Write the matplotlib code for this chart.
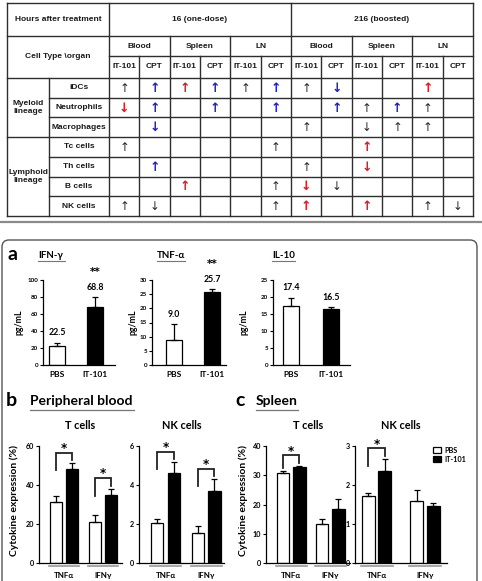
import numpy as np
import matplotlib
matplotlib.use("Agg")
import matplotlib.pyplot as plt
from matplotlib.patches import FancyBboxPatch

W, H = 482, 581
TFONT = ["Liberation Sans", "DejaVu Sans"]
PFONT = ["Lato", "DejaVu Sans"]
RED, BLUE, GREY = "#e3161b", "#1c1cd6", "#2a2a2a"

# ---- table data -------------------------------------------------------------
time_points = ["16 (one-dose)", "216 (boosted)"]
organs = ["Blood", "Spleen", "LN"]
treatments = ["IT-101", "CPT"]
lineages = [("Myeloid\nlineage", 3), ("Lymphoid\nlineage", 4)]
cell_types = ["iDCs", "Neutrophils", "Macrophages", "Tc cells", "Th cells",
              "B cells", "NK cells"]
# u/d thin black arrow, ru/rd bold red, bu/bd bold blue
changes = [
    ["u", "bu", "ru", "bu", "u", "bu", "u", "bd", "", "", "ru", ""],
    ["rd", "bu", "", "bu", "", "bu", "", "bu", "u", "bu", "u", ""],
    ["", "bd", "", "", "", "", "u", "", "d", "u", "u", ""],
    ["u", "", "", "", "", "u", "", "", "ru", "", "", ""],
    ["", "bu", "", "", "", "", "u", "", "rd", "", "", ""],
    ["", "", "ru", "", "", "u", "rd", "d", "", "", "", ""],
    ["u", "d", "", "", "", "u", "ru", "", "ru", "", "u", "d"],
]

# ---- panel a: serum cytokines (pg/mL) ---------------------------------------
cytokines = ["IFN-γ", "TNF-α", "IL-10"]
a_groups = ["PBS", "IT-101"]
a_pbs = [22.5, 9.0, 17.4]
a_pbs_err = [3.8, 5.5, 2.4]
a_it = [68.8, 25.7, 16.5]
a_it_err = [11.2, 1.0, 0.5]
a_ymax = [100, 30, 25]
a_ystep = [20, 5, 5]
a_stars = ["**", "**", ""]

# ---- panels b / c: cytokine expression (%) ----------------------------------
stims = ["TNFα", "IFNγ"]
b_t_pbs, b_t_pbs_err = [31.4, 20.8], [3.1, 3.7]
b_t_it, b_t_it_err = [48.2, 34.8], [3.0, 3.4]
b_nk_pbs, b_nk_pbs_err = [2.04, 1.52], [0.20, 0.38]
b_nk_it, b_nk_it_err = [4.60, 3.69], [0.56, 0.61]
c_t_pbs, c_t_pbs_err = [30.9, 13.4], [0.4, 1.5]
c_t_it, c_t_it_err = [32.8, 18.4], [0.4, 3.4]
c_nk_pbs, c_nk_pbs_err = [1.72, 1.60], [0.08, 0.28]
c_nk_it, c_nk_it_err = [2.35, 1.45], [0.32, 0.10]
b_t_sig, b_nk_sig = [True, True], [True, True]
c_t_sig, c_nk_sig = [True, False], [True, False]


def rect(x0, y0, x1, y1):
    return [x0 / W, 1 - y1 / H, (x1 - x0) / W, (y1 - y0) / H]


fig = plt.figure(figsize=(W / 100, H / 100), dpi=100)
ov = fig.add_axes([0, 0, 1, 1])
ov.set_xlim(0, W)
ov.set_ylim(H, 0)
ov.axis("off")

# ---- table ------------------------------------------------------------------
L, R, T, B = 7, 473, 3, 216
c0, c1 = 49, 109
cw = (R - c1) / 12
colx = [c1 + i * cw for i in range(13)]
rowy = np.linspace(78, B, 8)
lk = dict(color="#2e2e2e", lw=1.0)


def hl(y, x0, x1):
    ov.plot([x0, x1], [y, y], **lk)


def vl(x, y0, y1):
    ov.plot([x, x], [y0, y1], **lk)


hl(T, L, R); hl(B, L, R); vl(L, T, B); vl(R, T, B)
hl(36, L, R); hl(56, c1, R); hl(78, L, R)
for i, y in enumerate(rowy[1:-1], start=1):
    hl(y, L if i == 3 else c0, R)
vl(c0, 78, B); vl(c1, T, B); vl(colx[6], T, B)
for i in range(1, 12):
    if i == 6:
        continue
    vl(colx[i], 36 if i % 2 == 0 else 56, B)

tk = dict(family=TFONT, fontweight="bold", fontsize=6, ha="center",
          va="center", color="#1a1a1a")
ov.text((L + c1) / 2, 19.5, "Hours after treatment", **tk)
ov.text((L + c1) / 2, 57, "Cell Type \\organ", **tk)
for k, tp in enumerate(time_points):
    ov.text((colx[6 * k] + colx[6 * k + 6]) / 2, 19.5, tp, **tk)
    for j, org in enumerate(organs):
        ci = 6 * k + 2 * j
        ov.text((colx[ci] + colx[ci + 2]) / 2, 46, org, **tk)
        for m, tr in enumerate(treatments):
            ov.text((colx[ci + m] + colx[ci + m + 1]) / 2, 67, tr, **tk)
r0 = 0
for name, n in lineages:
    ov.text((L + c0) / 2, (rowy[r0] + rowy[r0 + n]) / 2, name,
            linespacing=1.3, **tk)
    r0 += n
arrow_style = {"u": ("↑", GREY, "normal", 8.5), "d": ("↓", GREY, "normal", 8.5),
               "ru": ("↑", RED, "bold", 9), "rd": ("↓", RED, "bold", 9),
               "bu": ("↑", BLUE, "bold", 9), "bd": ("↓", BLUE, "bold", 9)}
for r, (cell, row) in enumerate(zip(cell_types, changes)):
    yc = (rowy[r] + rowy[r + 1]) / 2
    ov.text((c0 + c1) / 2, yc, cell, **tk)
    for ci, code in enumerate(row):
        if not code:
            continue
        ch, col, wt, fs = arrow_style[code]
        ov.text((colx[ci] + colx[ci + 1]) / 2, yc + 0.5, ch, color=col,
                fontweight=wt, fontsize=fs, family="DejaVu Sans",
                ha="center", va="center")

ov.plot([0, W], [222, 222], color="#8a8a8a", lw=1.6)
ov.add_patch(FancyBboxPatch((2, 240), 475, 380,
                            boxstyle="round,pad=0,rounding_size=7",
                            fc="none", ec="#555555", lw=1.0))

# ---- headings ---------------------------------------------------------------
hk = dict(family=PFONT, fontweight="bold", color="black", va="center")
ov.text(7, 254, "a", fontsize=14, ha="left", **hk)
ov.text(6, 400, "b", fontsize=14, ha="left", **hk)
ov.text(235, 401, "c", fontsize=14, ha="left", **hk)
ov.text(30, 401, "Peripheral blood", fontsize=10, ha="left", **hk)
ov.text(256, 401, "Spleen", fontsize=10, ha="left", **hk)
ov.plot([30, 134], [409.5, 409.5], color="#777777", lw=0.9)
ov.plot([256, 298], [409.5, 409.5], color="#777777", lw=0.9)

for x0, x1, name in [(38, 65, cytokines[0]), (157, 185, cytokines[1]),
                     (272, 295, cytokines[2])]:
    ov.text(x0, 255, name, fontsize=7, ha="left", **hk)
    ov.plot([x0, x1], [260.5, 260.5], color="#777777", lw=0.8)


def style_axes(ax, ymax, ystep, fs):
    for s in ("top", "right"):
        ax.spines[s].set_visible(False)
    for s in ("left", "bottom"):
        ax.spines[s].set_linewidth(0.9)
    ax.set_ylim(0, ymax)
    ax.set_yticks(np.arange(0, ymax + ystep / 2, ystep))
    ax.tick_params(axis="y", length=2, width=0.8, pad=1.5, labelsize=fs)
    for lab in ax.get_yticklabels():
        lab.set_fontweight("bold")
        lab.set_family(PFONT)


# ---- panel a axes -----------------------------------------------------------
a_rects = [(43, 280, 115, 365), (152, 280, 226, 365), (273, 280, 350, 365)]
a_xlims = [(-0.36, 1.51), (-0.58, 1.37), (-0.45, 1.47)]
a_widths = [0.42, 0.42, 0.40]
a_ylab_x = [19, 133, 244]
for i in range(3):
    ax = fig.add_axes(rect(*a_rects[i]))
    x = np.arange(2)
    vals = [a_pbs[i], a_it[i]]
    errs = [a_pbs_err[i], a_it_err[i]]
    ax.bar(x, vals, a_widths[i], color=["white", "black"], edgecolor="black",
           lw=0.9, zorder=2)
    ax.errorbar(x, vals, yerr=[[0, 0], errs], fmt="none", ecolor="black",
                elinewidth=0.9, capsize=2.5, capthick=0.9, zorder=3)
    ax.set_xlim(*a_xlims[i])
    style_axes(ax, a_ymax[i], a_ystep[i], 4.5)
    ax.set_xticks(x, a_groups)
    ax.tick_params(axis="x", length=0, pad=4, labelsize=6)
    for lab in ax.get_xticklabels():
        lab.set_fontweight("bold")
        lab.set_family(PFONT)
    for xi, v, e in zip(x, vals, errs):
        ax.annotate(f"{v:.1f}", (xi, v + e), xytext=(0, 7),
                    textcoords="offset points", ha="center", va="center",
                    fontsize=6.3, fontweight="bold", family=PFONT,
                    annotation_clip=False)
    if a_stars[i]:
        ax.annotate(a_stars[i], (1, a_it[i] + a_it_err[i]), xytext=(0, 18),
                    textcoords="offset points", ha="center", va="center",
                    fontsize=7.5, fontweight="bold", family="DejaVu Sans",
                    annotation_clip=False)
    ov.text(a_ylab_x[i], 322, "pg/mL", rotation=90, fontsize=6.3, ha="center",
            **hk)


# ---- panels b / c axes ------------------------------------------------------
def cyto_axes(box, xlim, d, w, pbs, pbs_err, it, it_err, sig, ymax, ystep,
              title, legend=False):
    ax = fig.add_axes(rect(*box))
    x = np.arange(len(stims))
    ax.bar(x - d, pbs, w, color="white", edgecolor="black", lw=0.9, zorder=2,
           label="PBS")
    ax.bar(x + d, it, w, color="black", edgecolor="black", lw=0.9, zorder=2,
           label="IT-101")
    ax.errorbar(x - d, pbs, yerr=[np.zeros(len(x)), pbs_err], fmt="none",
                ecolor="black", elinewidth=0.9, capsize=2.3, capthick=0.9, zorder=3)
    ax.errorbar(x + d, it, yerr=[np.zeros(len(x)), it_err], fmt="none",
                ecolor="black", elinewidth=0.9, capsize=2.3, capthick=0.9, zorder=3)
    ax.set_xlim(*xlim)
    style_axes(ax, ymax, ystep, 5.2)
    ax.set_xticks(x, stims)
    ax.tick_params(axis="x", length=0, pad=6.5, labelsize=5.8)
    for lab in ax.get_xticklabels():
        lab.set_fontweight("bold")
        lab.set_family(PFONT)
    for xi in x:
        ax.plot([xi - d - w / 2 - 0.03, xi + d + w / 2 + 0.03], [-0.028, -0.028],
                transform=ax.get_xaxis_transform(), color="#9a9a9a", lw=1.2,
                clip_on=False)
    for xi, s in zip(x, sig):
        if not s:
            continue
        p_top = pbs[xi] + pbs_err[xi]
        i_top = it[xi] + it_err[xi]
        top = i_top + 0.09 * ymax
        left_bot = max(top - 0.15 * ymax, p_top + 0.03 * ymax)
        right_bot = i_top + 0.025 * ymax
        ax.plot([xi - d, xi - d, xi + d, xi + d],
                [left_bot, top, top, right_bot], color="#222222", lw=1.3,
                clip_on=False, solid_joinstyle="miter")
        ax.text(xi, top + 0.035 * ymax, "*", ha="center", va="center",
                fontsize=8.5, fontweight="bold", family="DejaVu Sans",
                clip_on=False)
    ax.set_title(title, fontsize=7.8, fontweight="bold", family=PFONT,
                 pad=12)
    if legend:
        ax.legend(loc="upper left", bbox_to_anchor=(0.82, 1.02), frameon=False,
                  prop={"family": PFONT, "weight": "bold", "size": 5.2},
                  handlelength=1.1, handleheight=0.8, handletextpad=0.4,
                  labelspacing=0.3, borderaxespad=0)
    return ax


cyto_axes((39, 446, 122, 563), (-0.64, 1.49), 0.208, 0.31,
          b_t_pbs, b_t_pbs_err, b_t_it, b_t_it_err, b_t_sig, 60, 20, "T cells")
cyto_axes((139, 446, 224, 563), (-0.66, 1.44), 0.205, 0.30,
          b_nk_pbs, b_nk_pbs_err, b_nk_it, b_nk_it_err, b_nk_sig, 6, 2, "NK cells")
cyto_axes((266, 446, 350, 563), (-0.65, 1.51), 0.21, 0.32,
          c_t_pbs, c_t_pbs_err, c_t_it, c_t_it_err, c_t_sig, 40, 10, "T cells")
cyto_axes((355, 446, 447, 563), (-0.45, 1.46), 0.17, 0.27,
          c_nk_pbs, c_nk_pbs_err, c_nk_it, c_nk_it_err, c_nk_sig, 3, 1, "NK cells",
          legend=True)
for xl in (14, 243):
    ov.text(xl, 500, "Cytokine expression (%)", rotation=90, fontsize=7.5,
            ha="center", **hk)

fig.savefig("out.png", dpi=100)
